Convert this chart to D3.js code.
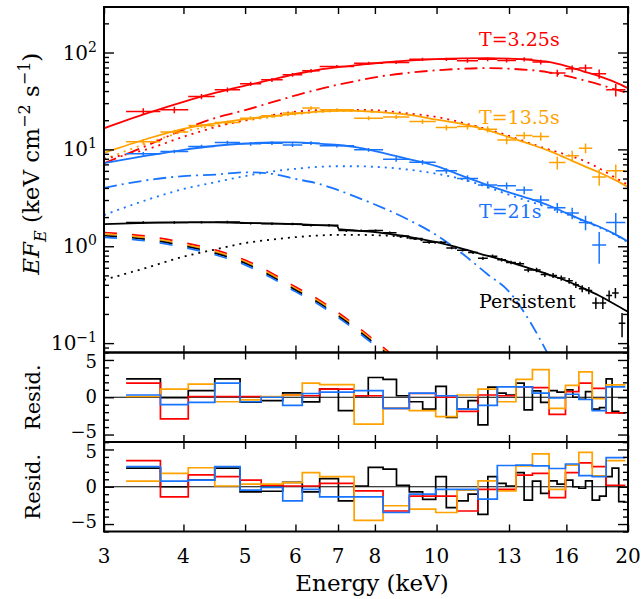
<!DOCTYPE html>
<html>
<head>
<meta charset="utf-8">
<script src="https://cdn.jsdelivr.net/npm/d3@7"></script>
<style>
  body { margin: 0; background: #fff; }
  text { font-family: "DejaVu Serif", serif; fill: #000; }
</style>
</head>
<body>
<svg id="chart" width="644" height="599"></svg>
<script>
// ---------------- data ----------------
// shared energy bins (keV) of the three burst spectra
const burstEdges = [3.25, 3.68, 4.07, 4.48, 4.91, 5.30, 5.73, 6.15, 6.55, 7.42, 8.24, 9.06, 9.97,
  10.77, 11.62, 12.46, 13.33, 14.15, 15.03, 15.95, 16.74, 17.57, 18.48, 19.81];
// energy bins of the persistent spectrum
const persEdges = [3.25, 3.68, 4.07, 4.48, 4.91, 5.30, 5.73, 6.15, 6.55, 7.01, 7.42, 7.81, 8.24,
  8.65, 9.06, 9.51, 9.97, 10.36, 10.77, 11.21, 11.62, 12.04, 12.46, 12.86, 13.33, 13.73, 14.15,
  14.58, 15.03, 15.47, 15.95, 16.38, 16.74, 17.15, 17.57, 18.04, 18.48, 18.88, 19.34, 19.81];

// E F_E (keV cm^-2 s^-1) and 1-sigma errors
const fluxT325 = [24.6, 25.6, 35.1, 41.2, 47.5, 52.2, 58.9, 64.7, 71.7, 77.7, 79, 85, 85, 82, 85,
  82.7, 85, 79.6, 61.3, 67.8, 69, 60.2, 41.2];
const errT325 = [2.0, 2.0, 2.2, 2.3, 2.4, 2.5, 2.6, 2.8, 2.5, 2.8, 3.0, 3.2, 3.4, 3.6, 3.8, 4.0,
  4.3, 4.6, 5.0, 5.5, 6.0, 6.5, 6.0];
const fluxT135 = [12.0, 15.1, 17.6, 18.9, 21.0, 22.2, 23.7, 26.7, 25.6, 21.0, 21.6, 19.4, 16.8,
  17.2, 16.1, 12.5, 13.9, 13.6, 7.3, 8.6, 10.3, 5.2, 6.0];
const errT135 = [0.8, 0.8, 0.9, 0.9, 1.0, 1.0, 1.1, 1.2, 1.0, 1.0, 1.0, 1.1, 1.1, 1.2, 1.2, 1.2,
  1.2, 1.3, 1.1, 1.1, 1.2, 1.0, 1.0];
const fluxT21 = [9.0, 9.5, 10.7, 11.8, 11.4, 11.6, 11.1, 11.6, 10.9, 9.9, 7.9, 7.35, 6.0, 5.0, 4.3,
  4.2, 3.8, 3.0, 2.5, 2.2, 1.76, 1.03, 1.76];
const errT21 = [0.4, 0.4, 0.45, 0.45, 0.5, 0.5, 0.5, 0.5, 0.45, 0.45, 0.45, 0.4, 0.4, 0.4, 0.35,
  0.35, 0.35, 0.35, 0.3, 0.3, 0.3, 0.37, 0.45];
const fluxPers = [1.76, 1.76, 1.77, 1.78, 1.73, 1.71, 1.70, 1.65, 1.65, 1.45, 1.445, 1.45, 1.38,
  1.275, 1.20, 1.10, 1.10, 0.96, 0.91, 0.86, 0.75, 0.79, 0.725, 0.68, 0.66, 0.57, 0.57, 0.51, 0.50,
  0.47, 0.44, 0.40, 0.365, 0.35, 0.26, 0.26, 0.31, 0.33, 0.16];
const errPers = [0.05, 0.05, 0.05, 0.05, 0.05, 0.05, 0.05, 0.05, 0.05, 0.05, 0.04, 0.04, 0.04, 0.04,
  0.04, 0.04, 0.03, 0.03, 0.03, 0.03, 0.03, 0.03, 0.03, 0.03, 0.03, 0.03, 0.03, 0.03, 0.03, 0.03,
  0.03, 0.03, 0.03, 0.03, 0.035, 0.035, 0.04, 0.04, 0.045];

// residuals, model 1
const res1T325 = [1.9, -2.9, 0.1, 0.1, 0.1, 0.05, 0.3, 0.2, 1.1, 0.2, -1.5, 0.5, 0.0, -1.9, 0.3,
  0.2, 1.4, 1.3, -2.3, 0.75, 1.9, 1.2, -2.1];
const res1T135 = [0.1, 1.1, 1.75, -0.6, -0.35, 0.1, 0.3, 1.9, 1.7, -3.6, -1.5, -1.8, -2.6, 0.3,
  1.1, -0.6, 2.4, 3.7, -1.5, 1.6, 3.4, -0.2, 1.65];
const res1T21 = [0.3, -1.0, -0.7, 1.9, -0.6, 0.0, -1.1, 0.5, 0.7, 0.9, -1.5, 0.55, 0.2, -1.6, -1.1,
  1.4, 1.4, 0.55, -0.1, 0.4, -0.3, -1.8, 1.4];
const res1Pers = [2.47, -0.05, 0.9, 2.47, -0.67, -0.45, 0.58, -0.63, 1.1, -1.8, 0.2, 2.65, 2.4, 0.2,
  -0.6, -1.6, 1.45, -2.7, -1.6, -0.45, -3.7, 1.35, 0.55, 0.3, 1.9, -1.7, 0.85, -0.7, 0.9, 0.7, 1.0,
  0.0, -0.27, 0.76, -1.6, -1.4, 2.47, -1.9, -2.1];
// residuals, model 2
const res2T325 = [3.5, -1.35, 1.6, 1.35, 0.9, 0.2, 0.1, 0.1, 0.45, -0.55, -3.25, -1.25, -1.25,
  -3.25, -0.35, -0.35, 1.55, 1.8, -1.45, 1.9, 3.2, 2.7, 0.2];
const res2T135 = [0.75, 1.8, 2.55, 0.1, 0.35, 0.35, 0.55, 1.9, 1.35, -4.5, -2.55, -3.0, -3.45,
  -0.45, 0.8, -0.55, 2.8, 4.4, -0.35, 2.9, 4.6, 1.45, 3.5];
const res2T21 = [2.7, 0.75, 0.9, 2.7, -0.45, -0.1, -1.9, -0.35, -1.35, -1.35, -3.45, -1.0, -0.35,
  -0.35, -1.65, 2.85, 2.9, 2.8, 2.45, 3.05, 1.5, 1.35, 3.9];
const res2Pers = [2.5, 0.0, 0.9, 2.5, -0.7, -0.6, 0.6, -0.7, 1.1, -1.9, 0.1, 2.6, 2.35, 0.2, -0.7,
  -1.7, 1.35, -2.8, -1.9, -1.0, -3.7, 1.35, 0.45, 0.1, 1.9, -1.8, 0.75, -0.9, 0.8, 0.35, 0.9, 0.0,
  -0.2, 0.8, -1.8, -1.25, 1.35, 2.5, -2.0];

// model curves
const modelE = [3, 3.5, 4, 4.5, 5, 5.5, 6, 6.5, 7, 7.5, 8, 9, 10, 11, 12, 13, 14, 15, 16, 17, 18, 19, 20];
const t325Total = [16.5, 23.5, 31, 38.5, 45.5, 52.5, 60, 66, 70.5, 74, 77.5, 82.5, 85.5, 87, 87.5,
  86.5, 84, 80, 72.5, 64, 57, 50, 42.8];
const t325Hot = [7.2, 10.9, 16, 21.2, 25.4, 30.5, 36, 41.5, 46.5, 51, 55.5, 61.5, 65.5, 68, 69, 68,
  66, 62.5, 57.5, 52, 47, 42, 38];
const t325Warm = [8, 10, 13.5, 17, 20, 22.5, 24.5, 25.4, 25.6, 25.6, 25.4, 23.5, 21.6, 18.8, 16.2,
  13.8, 11.6, 10.0, 8.8, 7.7, 6.4, 5.2, 4.3];
const t135Total = [9.2, 12.8, 16.3, 18.6, 20.5, 22, 23.4, 24.5, 25, 25, 24.4, 22.8, 20.3, 18.2,
  15.8, 13.4, 11.4, 9.7, 8.1, 6.8, 5.8, 4.9, 4.1];
const t135CompE = [3, 3.5, 4, 4.5, 5, 5.5, 6, 6.5, 7, 7.5, 8];
const t135Comp = [7.9, 11.5, 15.2, 17.7, 19.8, 21.5, 23.0, 24.2, 24.8, 24.9, 24.3];
const t21Total = [7.2, 8.6, 9.9, 10.9, 11.5, 11.8, 11.8, 11.5, 11.1, 10.5, 9.6, 8.0, 6.7, 5.3, 4.3,
  3.6, 3.1, 2.65, 2.2, 1.85, 1.6, 1.35, 1.12];
const t21CoolE = [3, 3.5, 4, 4.5, 5, 5.5, 6, 6.5, 7, 7.5, 8, 9, 10, 11, 12, 13, 14, 15];
const t21Cool = [4.0, 4.8, 5.3, 5.5, 5.8, 5.6, 4.95, 4.45, 3.8, 3.2, 2.7, 1.9, 1.3, 0.83, 0.52,
  0.34, 0.17, 0.075];
const t21Hot = [2.1, 3.0, 3.9, 4.6, 5.3, 5.9, 6.3, 6.6, 6.7, 6.7, 6.6, 6.2, 5.6, 4.9, 4.1, 3.4, 2.9,
  2.5, 2.15, 1.82, 1.57, 1.33, 1.1];
const persE = [3, 3.5, 4, 4.5, 5, 5.5, 6, 6.5, 6.98, 7.02, 7.5, 8, 8.5, 9, 9.5, 10, 11, 12, 13, 14,
  15, 16, 17, 18, 19, 20];
const persTotal = [1.69, 1.74, 1.76, 1.76, 1.74, 1.72, 1.69, 1.65, 1.62, 1.50, 1.45, 1.40, 1.33,
  1.26, 1.18, 1.10, 0.94, 0.80, 0.69, 0.59, 0.51, 0.44, 0.37, 0.31, 0.255, 0.21];
const persCompE = [3, 3.5, 4, 4.5, 5, 5.5, 6, 6.5, 7, 7.5, 8, 8.5, 9, 9.5, 10];
const persComp = [0.45, 0.60, 0.78, 0.93, 1.08, 1.17, 1.24, 1.29, 1.31, 1.31, 1.30, 1.28, 1.22,
  1.15, 1.08];
// soft disc component, shared by all four fits
const discE = [3, 3.5, 4, 4.5, 5, 5.5, 6, 6.5, 7, 7.5, 8, 8.5, 9];
const discFlux = [1.31, 1.2, 1.03, 0.86, 0.68, 0.5, 0.36, 0.27, 0.195, 0.14, 0.1, 0.072, 0.052];

const xTickValues = [3, 4, 5, 6, 7, 8, 10, 13, 16, 20];
const yDecades = [0.1, 1, 10, 100];
const yDecadeExp = ["\u22121", "0", "1", "2"];
const residTicks = [-5, 0, 5];
const residTickLabels = ["\u22125", "0", "5"];

// ---------------- layout ----------------
const COL = { red: "#ff0000", orange: "#ffa200", blue: "#1874ff", black: "#000000" };
const X0 = 104, X1 = 628, TOP = 7, B1 = 352.5, B2 = 442, B3 = 531.5;

const svg = d3.select("#chart");
const x = d3.scaleLog().domain([3, 20]).range([X0, X1]);
const y = d3.scaleLog().domain([0.08, 295]).range([B1, TOP]);
const yr1 = d3.scaleLinear().domain([-6, 6]).range([B2, B1]);
const yr2 = d3.scaleLinear().domain([-6, 6]).range([B3, B2]);

const defs = svg.append("defs");
function clip(id, y0, y1) {
  defs.append("clipPath").attr("id", id).append("rect")
    .attr("x", X0).attr("y", y0).attr("width", X1 - X0).attr("height", y1 - y0);
  return svg.append("g").attr("clip-path", `url(#${id})`);
}

// ---------------- top panel ----------------
const gTop = clip("clipTop", TOP, B1);
const modelLine = d3.line().x(d => x(d[0])).y(d => y(d[1])).curve(d3.curveMonotoneX);
const pairs = (es, vs) => es.map((e, i) => [e, vs[i]]);
function curve(g, es, vs, color, dash, width) {
  g.append("path").attr("d", modelLine(pairs(es, vs)))
    .attr("fill", "none").attr("stroke", color).attr("stroke-width", width || 1.8)
    .attr("stroke-dasharray", dash || null).attr("stroke-linecap", "butt");
}

// disc component for each fit, drawn side by side
[["red", -2.4], ["orange", -0.8], ["black", 0.8], ["blue", 2.4]].forEach(([c, off]) => {
  const g = gTop.append("g").attr("transform", `translate(0,${off})`);
  curve(g, discE, discFlux, COL[c], "13,15", 1.7);
});

const DOT = "2,5", DASHDOT = "13,5,2,5";
curve(gTop, persCompE, persComp, COL.black, DOT);
curve(gTop, t21CoolE, t21Cool, COL.blue, DASHDOT);
curve(gTop, modelE, t21Hot, COL.blue, DOT);
curve(gTop, t135CompE, t135Comp, COL.orange, DOT);
curve(gTop, modelE, t325Hot, COL.red, DASHDOT);
curve(gTop, modelE, t325Warm, COL.red, DOT);

curve(gTop, persE, persTotal, COL.black, null, 1.8);
curve(gTop, modelE, t21Total, COL.blue, null, 1.8);
curve(gTop, modelE, t135Total, COL.orange, null, 1.8);
curve(gTop, modelE, t325Total, COL.red, null, 1.8);

function crosses(g, edges, flux, err, color) {
  const bins = flux.map((v, i) => ({ lo: edges[i], hi: edges[i + 1], v, e: err[i] }));
  const s = g.append("g").attr("stroke", color).attr("stroke-width", 1.5);
  s.selectAll("line.h").data(bins).join("line").attr("class", "h")
    .attr("x1", d => x(d.lo)).attr("x2", d => x(d.hi))
    .attr("y1", d => y(d.v)).attr("y2", d => y(d.v));
  s.selectAll("line.v").data(bins).join("line").attr("class", "v")
    .attr("x1", d => x(Math.sqrt(d.lo * d.hi))).attr("x2", d => x(Math.sqrt(d.lo * d.hi)))
    .attr("y1", d => y(d.v - d.e)).attr("y2", d => y(d.v + d.e));
}
crosses(gTop, persEdges, fluxPers, errPers, COL.black);
crosses(gTop, burstEdges, fluxT21, errT21, COL.blue);
crosses(gTop, burstEdges, fluxT135, errT135, COL.orange);
crosses(gTop, burstEdges, fluxT325, errT325, COL.red);

// ---------------- residual panels ----------------
function residPanel(id, ys, y0, y1, series) {
  const g = clip(id, y0, y1);
  g.append("line").attr("x1", X0).attr("x2", X1).attr("y1", ys(0)).attr("y2", ys(0))
    .attr("stroke", "#000").attr("stroke-width", 1.2);
  const step = d3.line().x(d => x(d[0])).y(d => ys(d[1])).curve(d3.curveStepAfter);
  series.forEach(([edges, vals, color]) => {
    const pts = vals.map((v, i) => [edges[i], v]);
    pts.push([edges[vals.length], vals[vals.length - 1]]);
    g.append("path").attr("d", step(pts)).attr("fill", "none")
      .attr("stroke", color).attr("stroke-width", 1.7);
  });
}
residPanel("clipR1", yr1, B1, B2, [
  [persEdges, res1Pers, COL.black], [burstEdges, res1T325, COL.red],
  [burstEdges, res1T135, COL.orange], [burstEdges, res1T21, COL.blue]]);
residPanel("clipR2", yr2, B2, B3, [
  [persEdges, res2Pers, COL.black], [burstEdges, res2T325, COL.red],
  [burstEdges, res2T135, COL.orange], [burstEdges, res2T21, COL.blue]]);

// ---------------- axes and frames ----------------
function ticks(g) {
  g.select(".domain").remove();
  g.selectAll(".tick line").attr("stroke", "#000").attr("stroke-width", 1.4);
  g.selectAll(".tick text").remove();
}
function panelAxes(ys, y0, y1, major, minor) {
  const ax = svg.append("g");
  ax.append("g").attr("transform", `translate(0,${y1})`)
    .call(d3.axisBottom(x).tickValues(xTickValues).tickSize(-7)).call(ticks);
  ax.append("g").attr("transform", `translate(0,${y0})`)
    .call(d3.axisTop(x).tickValues(xTickValues).tickSize(-7)).call(ticks);
  ax.append("g").attr("transform", `translate(${X0},0)`)
    .call(d3.axisLeft(ys).tickValues(major).tickSize(-10)).call(ticks);
  ax.append("g").attr("transform", `translate(${X0},0)`)
    .call(d3.axisLeft(ys).tickValues(minor).tickSize(-5)).call(ticks);
  ax.append("g").attr("transform", `translate(${X1},0)`)
    .call(d3.axisRight(ys).tickValues(major).tickSize(-10)).call(ticks);
  ax.append("g").attr("transform", `translate(${X1},0)`)
    .call(d3.axisRight(ys).tickValues(minor).tickSize(-5)).call(ticks);
  ax.append("rect").attr("x", X0).attr("y", y0).attr("width", X1 - X0).attr("height", y1 - y0)
    .attr("fill", "none").attr("stroke", "#000").attr("stroke-width", 2);
}
const logMinor = [];
[0.01, 0.1, 1, 10, 100].forEach(d => { for (let k = 2; k <= 9; k++) {
  const v = k * d; if (v > 0.0801 && v < 295) logMinor.push(v); } });
panelAxes(y, TOP, B1, yDecades, logMinor);
const linMinor = d3.range(-6, 7).filter(v => v % 5 !== 0);
panelAxes(yr1, B1, B2, residTicks, linMinor);
panelAxes(yr2, B2, B3, residTicks, linMinor);

// ---------------- labels ----------------
const lab = svg.append("g");
// x tick labels
lab.selectAll("text.xt").data(xTickValues).join("text").attr("class", "xt")
  .attr("x", d => x(d)).attr("y", 563).attr("text-anchor", "middle")
  .attr("font-size", 20).text(d => d);
lab.append("text").attr("x", 372).attr("y", 591).attr("text-anchor", "middle")
  .attr("font-size", 23).text("Energy (keV)");

// y tick labels, top panel: powers of ten
yDecades.forEach((v, i) => {
  const t = lab.append("text").attr("x", 97).attr("y", y(v) + 7)
    .attr("text-anchor", "end").attr("font-size", 20);
  t.append("tspan").text("10");
  t.append("tspan").attr("dy", -8).attr("font-size", 14).text(yDecadeExp[i]);
});
// y tick labels, residual panels (the outer ±5 labels nudged apart where panels meet)
const residNudge = [-2.5, 0, 2.5];
[yr1, yr2].forEach(ys => {
  lab.selectAll(null).data(residTicks).join("text")
    .attr("x", 97).attr("y", (d, i) => ys(d) + 6 + residNudge[i]).attr("text-anchor", "end")
    .attr("font-size", 18).text((d, i) => residTickLabels[i]);
});

// axis titles
const yt = lab.append("text").attr("transform", `translate(39,${(TOP + B1) / 2 - 16}) rotate(-90)`)
  .attr("text-anchor", "middle").attr("font-size", 23);
yt.append("tspan").attr("font-style", "italic").text("EF");
yt.append("tspan").attr("font-style", "italic").attr("font-size", 16).attr("dy", 7).text("E");
yt.append("tspan").attr("dy", -7).text("  (keV cm");
yt.append("tspan").attr("font-size", 16).attr("dy", -9).text("\u22122");
yt.append("tspan").attr("dy", 9).text(" s");
yt.append("tspan").attr("font-size", 16).attr("dy", -9).text("\u22121");
yt.append("tspan").attr("dy", 9).text(")");
[(B1 + B2) / 2, (B2 + B3) / 2].forEach(cy => {
  lab.append("text").attr("transform", `translate(40,${cy}) rotate(-90)`)
    .attr("text-anchor", "middle").attr("font-size", 21).text("Resid.");
});

// spectrum labels
const tags = [["T=3.25s", COL.red, 46], ["T=13.5s", COL.orange, 124], ["T=21s", COL.blue, 218],
  ["Persistent", COL.black, 308]];
tags.forEach(([s, c, yy]) => {
  lab.append("text").attr("x", 479).attr("y", yy).attr("font-size", 19)
    .style("fill", c).text(s);
});
</script>
</body>
</html>
